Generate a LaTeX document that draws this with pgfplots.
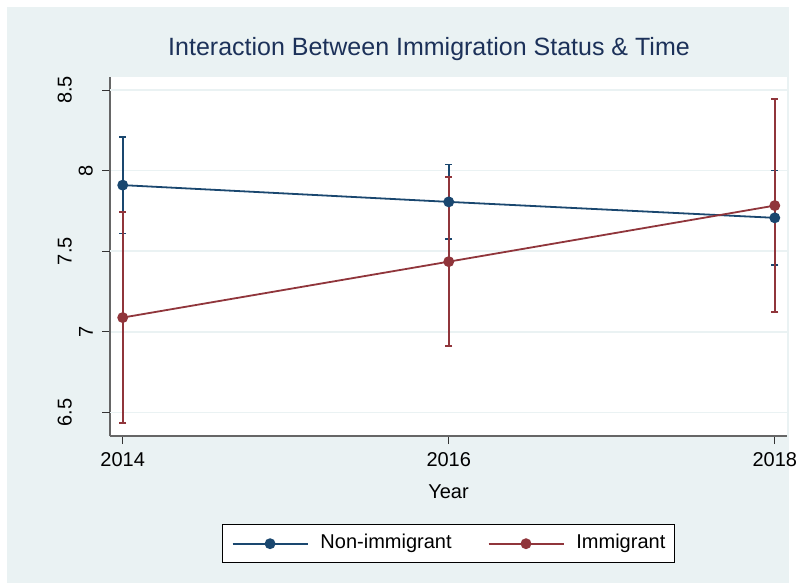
\documentclass[border=0pt]{standalone}
\usepackage{pgfplots}
\pgfplotsset{compat=1.18}
\usepackage{fontspec}
\setmainfont{Liberation Sans}
\definecolor{bgc}{HTML}{EAF2F3}
\definecolor{navyc}{HTML}{1A476F}
\definecolor{maroonc}{HTML}{90353B}
\definecolor{titlec}{HTML}{1C3159}
\begin{document}
\begin{tikzpicture}
\useasboundingbox (0pt,0pt) rectangle (796pt,-584pt);
\fill[white] (0pt,0pt) rectangle (796pt,-584pt);
\fill[bgc] (7pt,-7pt) rectangle (789pt,-583pt);
\begin{axis}[
  at={(110pt,-436pt)}, anchor=south west,
  scale only axis, width=677pt, height=359pt,
  xmin=2013.922, xmax=2018.075, ymin=6.353, ymax=8.581,
  axis background/.style={fill=white},
  axis lines=left,
  axis line style={-, draw=black!60, line width=1.1pt},
  xtick={2014,2016,2018},
  xticklabels={2014,2016,2018},
  ytick={7,8},
  extra y ticks={6.5,7.5,8.5},
  extra y tick style={grid=major, yticklabel style={yshift=21pt}},
  ymajorgrids,
  grid style={draw=bgc, line width=1.5pt},
  tick align=outside, major tick length=8pt,
  tick style={draw=black!80, line width=0.9pt},
  ticklabel style={font=\fontsize{20}{24}\selectfont, inner sep=0pt},
  /pgf/number format/assume math mode=true,
  xticklabel style={anchor=north, yshift=-8pt},
  yticklabel style={rotate=90, anchor=south, yshift=9pt},
  title={Interaction Between Immigration Status \& Time},
  title style={at={(axis description cs:0.4712,1.0432)}, anchor=base, font=\fontsize{25}{30}\selectfont, color=titlec},
  xlabel={Year},
  xlabel style={at={(axis description cs:0.5,-0.1727)}, anchor=base, font=\fontsize{20}{24}\selectfont},
  legend columns=2,
  legend style={at={(axis description cs:0.5,-0.2451)}, anchor=north, draw=black, line width=0.9pt, fill=white,
    font=\fontsize{20}{24}\selectfont, inner xsep=9pt, inner ysep=10pt,
    /tikz/every odd column/.append style={column sep=12pt},
    /tikz/every even column/.append style={column sep=36pt},
    nodes={inner sep=0pt, text height=14.5pt, text depth=4pt}},
  legend image code/.code={\draw[mark repeat=2,mark phase=2,#1] plot coordinates {(0pt,0pt) (37.5pt,0pt) (75pt,0pt)};},
]
\addplot[navyc, line width=1.8pt, mark=*, mark size=4.5pt,
  error bars/.cd, y dir=both, y explicit,
  error bar style={line width=1.8pt, navyc},
  error mark options={rotate=90, mark size=3.5pt, line width=1.8pt, navyc}]
  coordinates {(2014,7.910) +- (0,0.300) (2016,7.806) +- (0,0.232) (2018,7.707) +- (0,0.294)};
\addlegendentry{Non-immigrant}
\addplot[maroonc, line width=1.8pt, mark=*, mark size=4.5pt,
  error bars/.cd, y dir=both, y explicit,
  error bar style={line width=1.8pt, maroonc},
  error mark options={rotate=90, mark size=3.5pt, line width=1.8pt, maroonc}]
  coordinates {(2014,7.088) +- (0,0.655) (2016,7.435) +- (0,0.525) (2018,7.783) +- (0,0.660)};
\addlegendentry{Immigrant}
\end{axis}
\end{tikzpicture}
\end{document}
